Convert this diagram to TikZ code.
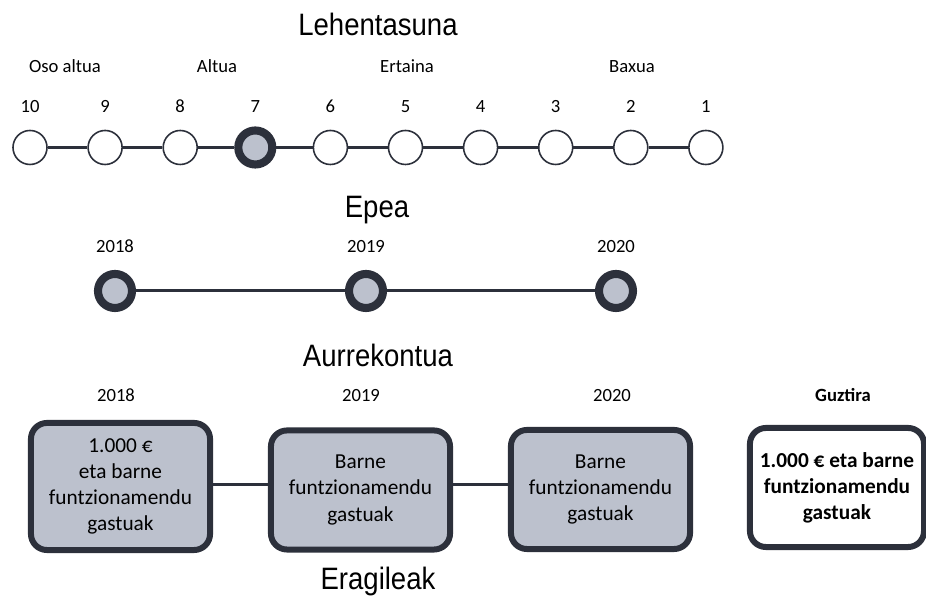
\documentclass[tikz,border=0pt]{standalone}
\usepackage{fontspec}
\setmainfont{Carlito}
\newfontfamily\headfont[FakeStretch=0.89]{Liberation Sans}
\usetikzlibrary{positioning}
\definecolor{darkline}{RGB}{44,48,59}
\definecolor{greyfill}{RGB}{188,193,205}
\tikzset{
  heading/.style={font=\headfont\fontsize{8.8}{10.5}\selectfont, anchor=base},
  smalllabel/.style={font=\fontsize{5.3}{6.4}\selectfont, anchor=base},
  dot/.style={circle, draw=darkline, line width=0.45pt, fill=white, minimum size=0.34cm, inner sep=0pt},
  bigdot/.style={dot, line width=2.3pt, fill=greyfill},
  link/.style={draw=darkline, line width=0.7pt},
  costbox/.style={rectangle, rounded corners=0.16cm, draw=darkline, line width=1.7pt, fill=greyfill,
    align=center, font=\fontsize{6.06}{7.4}\selectfont, minimum width=1.79cm, minimum height=1.19cm, inner sep=0pt},
}
\begin{document}
\begin{tikzpicture}[x=0.01cm, y=-0.01cm]
  \useasboundingbox (0,0) rectangle (926,598);

  %%%%% Lehentasuna %%%%%
  \node[heading] (lehen) at (378,36) {Lehentasuna};
  \node[smalllabel] (oso) at (65,73) {Oso altua};
  \node[smalllabel] (altua) at (217,73) {Altua};
  \node[smalllabel] (ertaina) at (407,73) {Ertaina};
  \node[smalllabel] (baxua) at (632,73) {Baxua};

  \foreach \n/\s [count=\k from 0] in {10/dot,9/dot,8/dot,7/bigdot,6/dot,5/dot,4/dot,3/dot,2/dot,1/dot} {
    \node[\s] (p\n) at ({30+75.1*\k},147.5) {};
    \node[smalllabel] (num\n) at ({30+75.1*\k},113) {\n};
  }
  \foreach \a/\b in {10/9,9/8,8/7,7/6,6/5,5/4,4/3,3/2,2/1}
    \draw[link] (p\a) -- (p\b);

  %%%%% Epea %%%%%
  \node[heading] (epea) at (377,218) {Epea};
  \foreach \y/\xx in {2018/115,2019/366,2020/616} {
    \node[bigdot] (e\y) at (\xx,291) {};
    \node[smalllabel] (ey\y) at (\xx,253) {\y};
  }
  \draw[link, line width=0.85pt] (e2018) -- (e2019);
  \draw[link, line width=0.85pt] (e2019) -- (e2020);

  %%%%% Aurrekontua %%%%%
  \node[heading] (aurre) at (378,367) {Aurrekontua};
  \node[smalllabel] (a2018) at (116,402) {2018};
  \node[smalllabel] (a2019) at (361,402) {2019};
  \node[smalllabel] (a2020) at (612,402) {2020};
  \node[smalllabel, font=\fontsize{5.3}{6.4}\selectfont\bfseries] (guztira) at (843,402) {Guztira};

  \node[costbox, minimum height=1.27cm] (b1) at (120.5,486.5) {1.000 €\\eta barne\\funtzionamendu\\gastuak};
  \node[costbox] (b2) at (360.5,490) {Barne\\funtzionamendu\\gastuak};
  \node[costbox] (b3) at (600.5,489.5) {Barne\\funtzionamendu\\gastuak};
  \node[costbox, fill=white, minimum width=1.74cm, font=\fontsize{6.06}{7.4}\selectfont\bfseries] (b4) at (837,487.5) {1.000 € eta barne\\funtzionamendu\\gastuak};

  \draw[link, line width=0.85pt] (b1.east |- 0,485) -- (b2.west |- 0,485);
  \draw[link, line width=0.85pt] (b2.east |- 0,485) -- (b3.west |- 0,485);

  \node[heading] (eragile) at (378,590) {Eragileak};
\end{tikzpicture}
\end{document}
